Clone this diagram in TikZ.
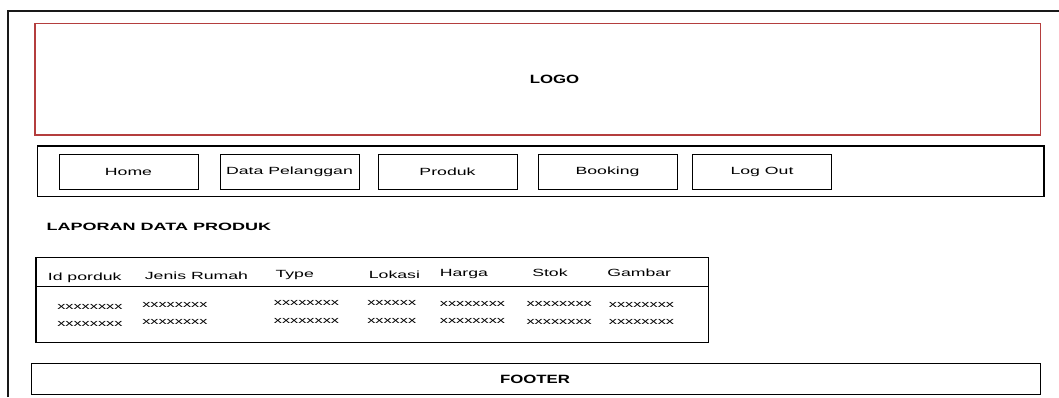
\documentclass[tikz,border=0pt]{standalone}
\usepackage{fontspec}
\setmainfont{Liberation Sans}[FakeStretch=1.7]
\newfontfamily\wideboldfont{Liberation Sans}[FakeStretch=1.4]
\definecolor{logored}{RGB}{180,62,62}

\begin{document}
\begin{tikzpicture}[x=1pt, y=-1pt, line width=1.1pt,
    % --- styles ---
    frame_line/.style={line width=2pt, draw=black!90},
    logo_box/.style={draw=logored, line width=1.2pt},
    nav_btn/.style={draw, line width=0.9pt, minimum width=139pt, minimum height=34.5pt,
        inner sep=0pt, font=\fontsize{10.4}{12}\selectfont},
    bold_text/.style={font=\fontsize{10.6}{12}\selectfont\bfseries, inner sep=0pt},
    title_text/.style={font=\fontsize{12}{14}\wideboldfont\bfseries, inner sep=0pt},
    head_text/.style={font=\fontsize{10.4}{12}\selectfont, anchor=base west, inner sep=0pt},
    cell_text/.style={font=\fontsize{9.6}{12}\selectfont, anchor=base west, inner sep=0pt}
]
    \useasboundingbox (0,0) rectangle (1059,397);

    % =========================================
    % page frame (top and left edge)
    % =========================================
    \coordinate (frame_bl) at (8,397);
    \coordinate (frame_tl) at (8,11);
    \coordinate (frame_tr) at (1059,11);
    \draw[frame_line] (frame_bl) -- (frame_tl) -- (frame_tr);

    % =========================================
    % header: logo
    % =========================================
    \draw[logo_box] (35,23.3) rectangle (1040.7,135);
    \node[title_text] (logo) at (554.5,79) {LOGO};

    % =========================================
    % menu bar
    % =========================================
    \draw (37.3,146) rectangle (1044,196.7);
    \foreach \cx/\nm/\txt in {128.5/home/Home, 289.5/pelanggan/Data Pelanggan,
        447.5/produk/Produk, 607.5/booking/Booking, 762/logout/Log Out}
        \node[nav_btn] (btn_\nm) at (\cx,171.8) {\txt};

    % =========================================
    % report title + table
    % =========================================
    \node[bold_text, anchor=base west] (judul) at (46,230) {LAPORAN DATA PRODUK};

    \draw (36,257.3) rectangle (708.3,342.7);
    \draw (36,286.7) -- (708.3,286.7);

    % --- column headers ---
    \node[head_text] (h_id)     at (47.3,280.7)  {Id porduk};
    \node[head_text] (h_jenis)  at (144.3,279)   {Jenis Rumah};
    \node[head_text] (h_type)   at (275,277.5)   {Type};
    \node[head_text] (h_lokasi) at (368.3,278.3) {Lokasi};
    \node[head_text] (h_harga)  at (439.3,276.5) {Harga};
    \node[head_text] (h_stok)   at (531.7,276.3) {Stok};
    \node[head_text] (h_gambar) at (606.7,276.3) {Gambar};

    % --- data rows ---
    \foreach \cx/\by/\col/\txt in {56.7/309.5/1/xxxxxxxx, 141.7/307.5/2/xxxxxxxx,
        273.3/305.7/3/xxxxxxxx, 366.7/305.7/4/xxxxxx, 439.3/306/5/xxxxxxxx,
        526/306.7/6/xxxxxxxx, 608.3/307/7/xxxxxxxx}
    {
        \node[cell_text] (c1_\col) at (\cx,\by) {\txt};
        \node[cell_text] (c2_\col) at (\cx,\by+17.3) {\txt};
    }

    % =========================================
    % footer
    % =========================================
    \draw (31.7,363.3) rectangle (1040.7,394.3);
    \node[title_text] (footer) at (535,379.5) {FOOTER};

\end{tikzpicture}
\end{document}
